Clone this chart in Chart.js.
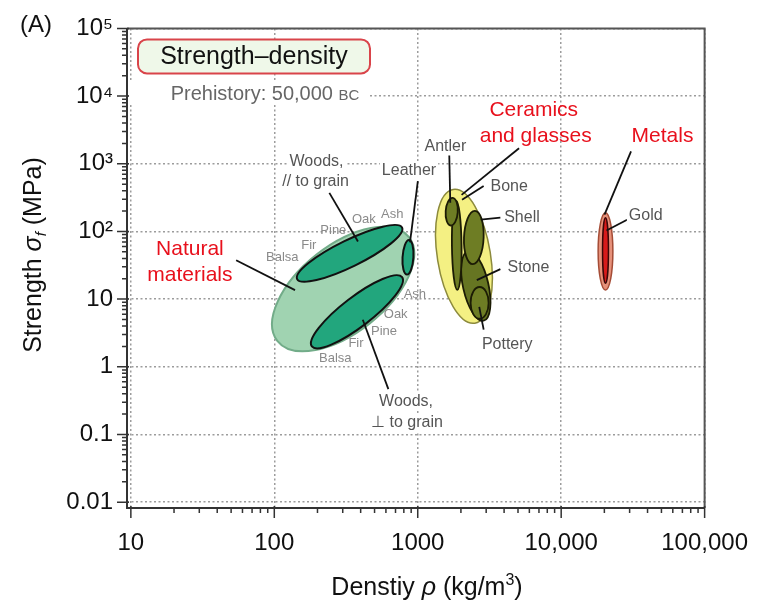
<!DOCTYPE html>
<html>
<head>
<meta charset="utf-8">
<script src="https://cdn.jsdelivr.net/npm/chart.js@4.4.0/dist/chart.umd.min.js"></script>
<style>
  body { margin: 0; background: #fff; }
  canvas { display: block; }
</style>
</head>
<body>
<canvas id="grafico" width="769" height="606"></canvas>
<script>
  // eixos (densidade kg/m3, resistencia MPa)
  const xTickValues = [10, 100, 1000, 10000, 100000];
  const xTickLabels = ['10', '100', '1000', '10,000', '100,000'];
  const yTickValues = [0.01, 0.1, 1, 10, 100, 1000, 10000, 100000];
  const yTickLabels = ['0.01', '0.1', '1', '10', '10²', '10³', '10⁴', '10⁵'];
  const minorSteps = [2, 3, 4, 5, 6, 7, 8, 9];

  // elipses: centro, fim do semi-eixo maior, fim do semi-eixo menor
  const ellipseNames = ['Natural materials', 'Woods // grain', 'Woods ⊥ grain', 'Leather',
    'Ceramics and glasses', 'Stone', 'Bone', 'Antler', 'Shell', 'Pottery', 'Metals', 'Gold'];
  const ellipseGroup = ['naturalEnv', 'wood', 'wood', 'wood',
    'ceramicEnv', 'stone', 'olive', 'olive', 'olive', 'olive', 'metalEnv', 'gold'];
  const ellipseCx = [302, 335, 377, 855, 2100, 2540, 1870, 1725, 2460, 2700, 20370, 20370];
  const ellipseCy = [14.1, 47.5, 6.5, 41.5, 42.9, 15.6, 62.2, 196, 81.4, 8.8, 50.8, 52.5];
  const ellipseMx = [869, 778, 778, 869, 2500, 2880, 1853, 1753, 2500, 2700, 20370, 20370];
  const ellipseMy = [82.3, 114, 21.1, 74.8, 4.41, 4.8, 283, 314, 202, 15.1, 189, 160];
  const ellipseNx = [463, 367, 435, 933, 3200, 3100, 2020, 1900, 2880, 3120, 22930, 21360];
  const ellipseNy = [4.38, 31.6, 4.35, 41.5, 49.6, 17.2, 62.2, 192, 81.4, 8.8, 50.8, 52.5];

  // linhas de chamada
  const leaderNames = ['Natural materials', 'Woods //', 'Woods ⊥', 'Leather', 'Antler', 'Ceramics',
    'Bone', 'Shell', 'Stone', 'Pottery', 'Metals', 'Gold'];
  const leaderFromX = [54.2, 242, 414, 1002, 1659, 5085, 2881, 3767, 3767, 2881, 30690, 28820];
  const leaderFromY = [37.5, 371, 4.96, 556, 1336, 1692, 470, 160, 27.7, 3.54, 1529, 149];
  const leaderToX = [139.5, 383, 624, 883, 1686, 2021, 2037, 2748, 2580, 2684, 20050, 20690];
  const leaderToY = [13.6, 71.1, 0.468, 68.8, 265, 347, 293, 149, 19.1, 7.69, 177, 103];

  // textos
  const labelText = ['Natural', 'materials', 'Ceramics', 'and glasses', 'Metals',
    'Woods,', '// to grain', 'Leather', 'Antler', 'Bone', 'Shell', 'Stone', 'Pottery', 'Gold', 'Woods,', '⊥ to grain',
    'Balsa', 'Fir', 'Pine', 'Oak', 'Ash', 'Ash', 'Oak', 'Pine', 'Fir', 'Balsa'];
  const labelX = [25.8, 25.8, 6440, 6650, 50850,
    197, 194, 869, 1558, 4341, 5329, 5906, 4207, 38880, 829, 842,
    113.6, 174, 258, 421, 665, 955, 702, 582, 371, 266];
  const labelY = [54.3, 22.6, 6093, 2536, 2536,
    1092, 538, 806, 1810, 454, 160, 29.6, 2.14, 171, 0.302, 0.149,
    41.5, 62.2, 103, 149, 177, 11.9, 5.87, 3.31, 2.21, 1.33];
  const labelKind = ['red', 'red', 'red', 'red', 'red',
    'grey', 'grey', 'grey', 'grey', 'grey', 'grey', 'grey', 'grey', 'grey', 'grey', 'grey',
    'small', 'small', 'small', 'small', 'small', 'small', 'small', 'small', 'small', 'small'];

  const FONT = "'Liberation Sans', Arial, Helvetica, sans-serif";

  const estilos = {
    naturalEnv: { fill: '#a0d3b1', line: '#72ac89', width: 2 },
    wood: { fill: '#22a67d', line: '#111', width: 2 },
    ceramicEnv: { fill: '#f4f083', line: '#8c8a3c', width: 1.5 },
    stone: { fill: '#667522', line: '#1c1c05', width: 1.8 },
    olive: { fill: '#6e7d24', line: '#1c1c05', width: 1.8 },
    metalEnv: { fill: '#e6917a', line: '#a54c36', width: 1.5 },
    gold: { fill: '#d81a1a', line: '#3a0808', width: 1.5 }
  };

  const labelFonts = {
    red: { font: '21px ' + FONT, color: '#e8101c', bg: false },
    grey: { font: '16px ' + FONT, color: '#555', bg: true },
    small: { font: '13px ' + FONT, color: '#8a8a8a', bg: false }
  };

  function toPx(chart, x, y) {
    return { x: chart.scales.x.getPixelForValue(x), y: chart.scales.y.getPixelForValue(y) };
  }

  const ellipsesPlugin = {
    id: 'ellipses',
    beforeDatasetsDraw(chart) {
      const ctx = chart.ctx;
      for (let i = 0; i < ellipseNames.length; i++) {
        const c = toPx(chart, ellipseCx[i], ellipseCy[i]);
        const m = toPx(chart, ellipseMx[i], ellipseMy[i]);
        const n = toPx(chart, ellipseNx[i], ellipseNy[i]);
        const st = estilos[ellipseGroup[i]];
        ctx.save();
        ctx.beginPath();
        ctx.transform(m.x - c.x, m.y - c.y, n.x - c.x, n.y - c.y, c.x, c.y);
        ctx.arc(0, 0, 1, 0, Math.PI * 2);
        ctx.restore();
        ctx.save();
        ctx.fillStyle = st.fill;
        ctx.fill();
        ctx.lineWidth = st.width;
        ctx.strokeStyle = st.line;
        ctx.stroke();
        ctx.restore();
      }
    }
  };

  function textRuns(ctx, parts, x, y) {
    let w = 0;
    parts.forEach(p => { ctx.font = p[1]; w += ctx.measureText(p[0]).width; });
    let cx = x - w / 2;
    parts.forEach(p => {
      ctx.font = p[1];
      ctx.fillText(p[0], cx, y + (p[2] || 0));
      cx += ctx.measureText(p[0]).width;
    });
  }

  const labelsPlugin = {
    id: 'rotulos',
    afterDatasetsDraw(chart) {
      const ctx = chart.ctx;
      const area = chart.chartArea;
      ctx.save();
      ctx.textAlign = 'center';
      ctx.textBaseline = 'middle';
      for (let i = 0; i < labelText.length; i++) {
        const p = toPx(chart, labelX[i], labelY[i]);
        const f = labelFonts[labelKind[i]];
        ctx.font = f.font;
        if (f.bg) {
          const w = ctx.measureText(labelText[i]).width;
          ctx.fillStyle = '#fff';
          ctx.fillRect(p.x - w / 2 - 2, p.y - 9, w + 4, 18);
        }
        ctx.fillStyle = f.color;
        ctx.fillText(labelText[i], p.x, p.y);
      }

      // caixa do titulo
      const bx = area.left + 11, by = area.top + 11, bw = 232, bh = 34, r = 9;
      ctx.beginPath();
      ctx.moveTo(bx + r, by);
      ctx.arcTo(bx + bw, by, bx + bw, by + bh, r);
      ctx.arcTo(bx + bw, by + bh, bx, by + bh, r);
      ctx.arcTo(bx, by + bh, bx, by, r);
      ctx.arcTo(bx, by, bx + bw, by, r);
      ctx.closePath();
      ctx.fillStyle = '#eff8e9';
      ctx.fill();
      ctx.lineWidth = 2;
      ctx.strokeStyle = '#d9444a';
      ctx.stroke();
      ctx.fillStyle = '#111';
      ctx.font = '25px ' + FONT;
      ctx.fillText('Strength–density', bx + bw / 2, by + bh / 2 + 1);

      // prehistoria
      ctx.fillStyle = '#fff';
      ctx.fillRect(area.left + 3, by + 41, 240, 24);
      ctx.fillStyle = '#666';
      ctx.textAlign = 'left';
      ctx.textBaseline = 'alphabetic';
      textRuns(ctx, [['Prehistory: 50,000 ', '20px ' + FONT], ['BC', '15px ' + FONT]], area.left + 138, by + 61);
      ctx.restore();
    }
  };

  const framePlugin = {
    id: 'moldura',
    afterDraw(chart) {
      const ctx = chart.ctx;
      const a = chart.chartArea;
      const sx = chart.scales.x, sy = chart.scales.y;
      ctx.save();
      ctx.lineCap = 'butt';
      ctx.strokeStyle = '#555';
      ctx.lineWidth = 2;
      ctx.beginPath();
      ctx.moveTo(a.left, a.top); ctx.lineTo(a.right, a.top); ctx.lineTo(a.right, a.bottom);
      ctx.stroke();
      ctx.strokeStyle = '#333';
      ctx.beginPath();
      ctx.moveTo(a.left, a.top); ctx.lineTo(a.left, a.bottom); ctx.lineTo(a.right, a.bottom);
      ctx.stroke();

      // marcas dos eixos
      ctx.lineWidth = 1.5;
      ctx.beginPath();
      for (let i = 0; i < xTickValues.length; i++) {
        const v = xTickValues[i];
        const x = sx.getPixelForValue(v);
        ctx.moveTo(x, a.bottom - 2); ctx.lineTo(x, a.bottom + 10);
        if (i < xTickValues.length - 1) {
          minorSteps.forEach(s => {
            const xm = sx.getPixelForValue(v * s);
            ctx.moveTo(xm, a.bottom - 1); ctx.lineTo(xm, a.bottom + 5);
          });
        }
      }
      for (let i = 0; i < yTickValues.length; i++) {
        const v = yTickValues[i];
        const y = sy.getPixelForValue(v);
        ctx.moveTo(a.left + 2, y); ctx.lineTo(a.left - 10, y);
        if (i < yTickValues.length - 1) {
          minorSteps.forEach(s => {
            const ym = sy.getPixelForValue(v * s);
            ctx.moveTo(a.left + 1, ym); ctx.lineTo(a.left - 5, ym);
          });
        }
      }
      ctx.stroke();

      // titulos dos eixos
      ctx.fillStyle = '#111';
      ctx.textAlign = 'left';
      ctx.textBaseline = 'alphabetic';
      textRuns(ctx, [
        ['Denstiy ', '25px ' + FONT],
        ['ρ', 'italic 25px ' + FONT],
        [' (kg/m', '25px ' + FONT],
        ['3', '16px ' + FONT, -10],
        [')', '25px ' + FONT]
      ], 427, 595);

      ctx.save();
      ctx.translate(41, 255);
      ctx.rotate(-Math.PI / 2);
      textRuns(ctx, [
        ['Strength ', '25px ' + FONT],
        ['σ', 'italic 25px ' + FONT],
        ['f', 'italic 15px ' + FONT, 5],
        [' (MPa)', '25px ' + FONT]
      ], 0, 0);
      ctx.restore();

      ctx.font = '24px ' + FONT;
      ctx.fillText('(A)', 20, 32);
      ctx.restore();
    }
  };

  const leaderDatasets = leaderNames.map((nome, i) => ({
    label: nome,
    data: [{ x: leaderFromX[i], y: leaderFromY[i] }, { x: leaderToX[i], y: leaderToY[i] }],
    showLine: true,
    borderColor: '#111',
    borderWidth: 1.8,
    pointRadius: 0,
    fill: false
  }));

  const gridDotted = {
    color: '#9c9c9c',
    lineWidth: 1.5,
    drawTicks: false
  };

  var ctx1 = document.getElementById('grafico').getContext('2d');
  var myChart1 = new Chart(ctx1, {
    type: 'scatter',
    data: { datasets: leaderDatasets },
    options: {
      responsive: false,
      animation: false,
      events: [],
      layout: { padding: { top: 24, right: 54, left: 0, bottom: 0 } },
      plugins: { legend: { display: false }, tooltip: { enabled: false } },
      scales: {
        x: {
          type: 'logarithmic',
          min: 9.4,
          max: 100000,
          afterBuildTicks: s => { s.ticks = xTickValues.map(v => ({ value: v, major: true })); },
          afterFit: s => { s.height = 98; },
          grid: gridDotted,
          border: { display: false, dash: [2, 2.5] },
          ticks: {
            autoSkip: false,
            maxRotation: 0,
            padding: 21,
            color: '#111',
            font: { family: FONT, size: 24 },
            callback: (v) => xTickLabels[xTickValues.indexOf(v)]
          }
        },
        y: {
          type: 'logarithmic',
          min: 0.0082,
          max: 100000,
          afterBuildTicks: s => { s.ticks = yTickValues.map(v => ({ value: v, major: true })); },
          afterFit: s => { s.width = 127; },
          grid: gridDotted,
          border: { display: false, dash: [2, 2.5] },
          ticks: {
            autoSkip: false,
            padding: 14,
            color: '#111',
            font: { family: FONT, size: 24 },
            callback: (v) => yTickLabels[yTickValues.indexOf(v)]
          }
        }
      }
    },
    plugins: [ellipsesPlugin, labelsPlugin, framePlugin]
  });
</script>
</body>
</html>
